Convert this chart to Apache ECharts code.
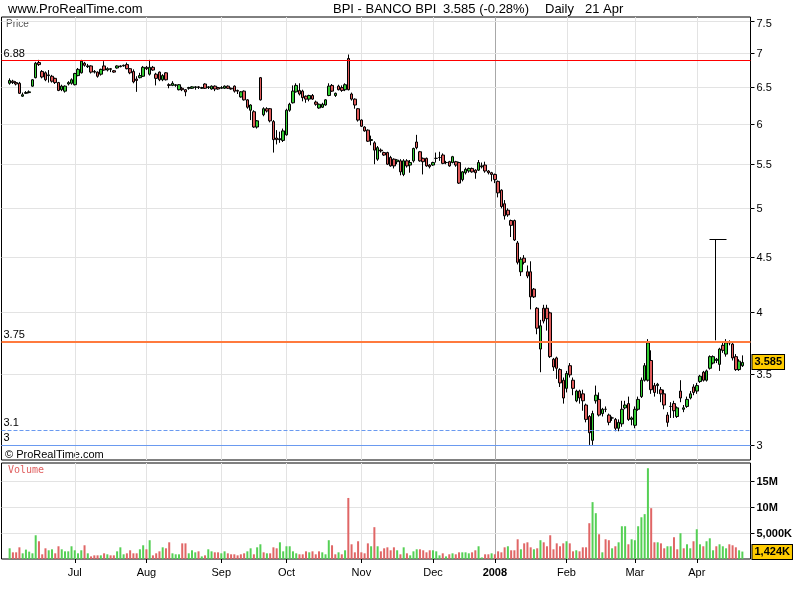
<!DOCTYPE html>
<html><head><meta charset="utf-8">
<script src="https://cdn.jsdelivr.net/npm/echarts@6/dist/echarts.min.js"></script>
<style>html,body{margin:0;padding:0;background:#fff}#c{width:800px;height:600px}</style>
</head><body><div id="c"></div>
<script>
// ---------- data ----------
const symbolName = 'BPI - BANCO BPI';
const startDate = '2007-06-04', endDate = '2008-04-21';
const holidays = ['2007-12-25','2007-12-26','2008-01-01','2008-03-21','2008-03-24'];
const monthKeys  = ['2007-07','2007-08','2007-09','2007-10','2007-11','2007-12','2008-01','2008-02','2008-03','2008-04'];
const monthNames = ['Jul','Aug','Sep','Oct','Nov','Dec','2008','Feb','Mar','Apr'];
// [open, close, low, high]
const candles = [
[6.55,6.59,6.53,6.62],[6.58,6.56,6.54,6.60],[6.56,6.54,6.52,6.58],[6.55,6.41,6.40,6.57],[6.37,6.39,6.36,6.42],
[6.41,6.42,6.40,6.44],[6.42,6.43,6.41,6.45],[6.51,6.60,6.50,6.61],[6.63,6.84,6.62,6.86],[6.85,6.82,6.80,6.89],
[6.72,6.64,6.62,6.74],[6.70,6.60,6.58,6.72],[6.66,6.67,6.56,6.74],[6.65,6.58,6.56,6.67],[6.62,6.56,6.54,6.63],
[6.56,6.45,6.44,6.57],[6.46,6.51,6.44,6.53],[6.44,6.51,6.42,6.52],[6.54,6.56,6.52,6.58],[6.55,6.60,6.53,6.62],
[6.53,6.69,6.52,6.70],[6.66,6.75,6.65,6.77],[6.70,6.87,6.69,6.89],[6.84,6.81,6.79,6.86],[6.79,6.80,6.77,6.83],
[6.80,6.71,6.69,6.81],[6.72,6.71,6.69,6.74],[6.71,6.65,6.63,6.72],[6.68,6.75,6.66,6.76],[6.80,6.74,6.73,6.87],
[6.74,6.76,6.72,6.78],[6.76,6.75,6.71,6.77],[6.73,6.71,6.70,6.74],[6.77,6.80,6.76,6.81],[6.79,6.80,6.78,6.81],
[6.80,6.81,6.79,6.82],[6.82,6.76,6.75,6.85],[6.76,6.70,6.68,6.77],[6.72,6.57,6.55,6.75],[6.61,6.59,6.43,6.65],
[6.63,6.66,6.62,6.70],[6.65,6.78,6.64,6.80],[6.78,6.76,6.74,6.80],[6.68,6.78,6.66,6.89],[6.78,6.74,6.73,6.80],
[6.68,6.62,6.52,6.70],[6.71,6.60,6.58,6.72],[6.60,6.66,6.58,6.68],[6.70,6.60,6.59,6.71],[6.53,6.52,6.48,6.55],
[6.52,6.55,6.51,6.58],[6.52,6.53,6.50,6.54],[6.46,6.53,6.45,6.54],[6.48,6.46,6.44,6.50],[6.46,6.43,6.37,6.47],
[6.48,6.49,6.46,6.50],[6.48,6.50,6.47,6.51],[6.49,6.50,6.46,6.51],[6.50,6.49,6.47,6.51],[6.48,6.49,6.47,6.50],
[6.54,6.48,6.47,6.55],[6.49,6.50,6.47,6.51],[6.47,6.51,6.46,6.52],[6.51,6.47,6.44,6.52],[6.49,6.47,6.46,6.50],
[6.48,6.49,6.47,6.51],[6.48,6.51,6.47,6.52],[6.51,6.48,6.47,6.52],[6.48,6.47,6.46,6.49],[6.51,6.44,6.42,6.52],
[6.45,6.44,6.40,6.46],[6.36,6.43,6.35,6.44],[6.44,6.32,6.31,6.45],[6.32,6.22,6.20,6.33],[6.18,6.25,6.05,6.26],
[6.16,5.96,5.95,6.18],[5.96,6.04,5.94,6.05],[6.63,6.32,6.31,6.64],[6.12,6.20,6.10,6.22],[6.20,6.17,6.15,6.22],
[6.20,6.04,6.02,6.21],[6.03,5.80,5.64,6.05],[5.82,5.80,5.74,5.92],[5.80,5.81,5.76,5.90],[5.79,5.91,5.77,5.94],
[5.86,6.18,5.85,6.20],[6.18,6.26,6.16,6.28],[6.28,6.44,6.27,6.52],[6.43,6.52,6.42,6.55],[6.45,6.40,6.38,6.55],
[6.44,6.35,6.30,6.46],[6.37,6.33,6.28,6.38],[6.33,6.38,6.30,6.39],[6.38,6.33,6.32,6.40],[6.29,6.26,6.24,6.31],
[6.21,6.26,6.20,6.27],[6.22,6.26,6.21,6.28],[6.25,6.32,6.24,6.33],[6.38,6.51,6.37,6.55],[6.52,6.44,6.43,6.54],
[6.38,6.41,6.36,6.42],[6.51,6.46,6.45,6.53],[6.49,6.45,6.43,6.52],[6.46,6.53,6.44,6.55],[6.91,6.46,6.45,6.97],
[6.40,6.33,6.31,6.42],[6.33,6.25,6.20,6.34],[6.20,6.05,6.03,6.21],[6.05,5.97,5.96,6.06],[5.96,5.91,5.90,5.97],
[5.92,5.78,5.77,5.93],[5.79,5.80,5.73,5.85],[5.76,5.67,5.50,5.78],[5.56,5.70,5.54,5.72],[5.67,5.66,5.64,5.69],
[5.64,5.61,5.60,5.65],[5.64,5.50,5.49,5.65],[5.58,5.48,5.47,5.60],[5.56,5.48,5.45,5.57],[5.53,5.55,5.50,5.56],
[5.54,5.41,5.37,5.56],[5.38,5.54,5.36,5.56],[5.54,5.48,5.46,5.56],[5.49,5.52,5.40,5.55],[5.54,5.69,5.52,5.70],
[5.77,5.70,5.68,5.86],[5.65,5.54,5.53,5.66],[5.57,5.53,5.38,5.58],[5.57,5.48,5.47,5.58],[5.49,5.47,5.45,5.50],
[5.49,5.52,5.48,5.53],[5.57,5.57,5.52,5.64],[5.58,5.58,5.54,5.65],[5.61,5.51,5.50,5.63],[5.52,5.52,5.50,5.54],
[5.53,5.48,5.47,5.54],[5.52,5.59,5.51,5.60],[5.53,5.49,5.47,5.54],[5.52,5.28,5.27,5.53],[5.32,5.41,5.30,5.42],
[5.40,5.44,5.38,5.46],[5.42,5.45,5.40,5.46],[5.45,5.41,5.40,5.46],[5.43,5.40,5.33,5.44],[5.43,5.52,5.42,5.55],
[5.47,5.48,5.45,5.52],[5.49,5.42,5.40,5.53],[5.42,5.40,5.38,5.43],[5.40,5.38,5.30,5.41],[5.38,5.32,5.28,5.39],
[5.30,5.17,5.12,5.31],[5.20,5.02,5.00,5.21],[5.05,4.92,4.88,5.09],[4.98,4.93,4.91,5.00],[4.87,4.82,4.70,4.88],
[4.87,4.67,4.66,4.88],[4.64,4.45,4.43,4.66],[4.36,4.48,4.32,4.50],[4.49,4.45,4.43,4.52],[4.36,4.32,4.30,4.42],
[4.36,4.13,4.02,4.46],[4.20,4.13,4.12,4.21],[4.03,3.86,3.81,4.04],[3.69,3.88,3.51,3.93],[4.03,3.92,3.90,4.06],
[4.03,3.94,3.84,4.06],[3.99,3.63,3.62,4.00],[3.61,3.55,3.52,3.62],[3.62,3.54,3.46,3.63],[3.53,3.43,3.40,3.54],
[3.45,3.32,3.28,3.47],[3.39,3.50,3.36,3.52],[3.56,3.49,3.47,3.58],[3.45,3.39,3.34,3.47],[3.30,3.37,3.29,3.38],
[3.37,3.32,3.28,3.38],[3.35,3.30,3.23,3.38],[3.27,3.17,3.15,3.28],[3.19,3.08,3.00,3.20],[3.03,3.21,3.00,3.23],
[3.30,3.34,3.28,3.41],[3.31,3.20,3.19,3.36],[3.21,3.24,3.19,3.25],[3.24,3.24,3.22,3.26],[3.20,3.15,3.13,3.21],
[3.18,3.18,3.16,3.19],[3.17,3.11,3.09,3.18],[3.11,3.15,3.09,3.17],[3.14,3.24,3.12,3.30],[3.25,3.27,3.24,3.30],
[3.28,3.17,3.16,3.33],[3.17,3.18,3.13,3.19],[3.13,3.24,3.11,3.26],[3.24,3.31,3.23,3.33],[3.33,3.45,3.32,3.47],
[3.45,3.56,3.44,3.58],[3.45,3.74,3.44,3.77],[3.60,3.38,3.35,3.68],[3.41,3.36,3.33,3.43],[3.41,3.42,3.35,3.43],
[3.38,3.35,3.29,3.40],[3.35,3.27,3.24,3.38],[3.20,3.15,3.12,3.22],[3.26,3.26,3.18,3.29],[3.28,3.23,3.18,3.30],
[3.19,3.25,3.18,3.26],[3.37,3.32,3.29,3.45],[3.24,3.25,3.22,3.27],[3.26,3.31,3.25,3.33],[3.32,3.35,3.31,3.37],
[3.40,3.36,3.34,3.42],[3.37,3.41,3.35,3.43],[3.44,3.48,3.43,3.49],[3.51,3.45,3.44,3.52],[3.45,3.52,3.44,3.53],
[3.54,3.63,3.53,3.64],[3.58,3.63,3.57,3.64],[3.60,3.61,3.58,3.62],[3.57,3.69,3.52,3.70],[3.72,3.68,3.66,3.75],
[3.65,3.74,3.63,3.77],[3.74,3.74,3.72,3.76],[3.73,3.62,3.60,3.74],[3.63,3.53,3.52,3.65],[3.53,3.595,3.52,3.61],
[3.56,3.585,3.55,3.64]
];
// volume in millions
const volumes = [
2.05,1.28,1.28,2.24,1.09,1.8,1.41,1.09,4.55,3.4,
0.9,2.05,1.67,1.86,1.09,2.44,1.86,1.47,1.47,2.44,
1.67,1.09,1.67,2.63,1.09,0.5,0.7,0.7,0.7,1.09,
0.9,0.7,0.7,1.47,2.24,0.9,1.09,1.67,1.09,1.09,
1.86,2.63,1.86,3.6,0.7,1.09,1.47,2.24,2.05,3.2,
1.09,0.9,0.9,3.0,3.0,1.09,1.67,1.28,1.47,0.5,
0.7,1.86,1.47,1.28,1.28,1.09,1.47,1.09,0.9,0.9,
0.7,0.9,1.09,1.47,2.05,0.9,2.24,2.82,1.28,1.09,
1.09,2.24,2.05,3.2,1.47,2.44,2.44,1.47,1.09,0.9,
0.9,1.47,1.28,1.47,0.9,1.47,1.28,0.9,3.6,2.63,
0.9,1.28,0.9,1.67,11.7,2.82,1.28,3.4,1.28,1.09,
3.0,2.44,6.1,2.44,1.47,2.05,2.24,1.67,2.24,1.67,
0.9,2.24,1.09,0.7,1.47,1.86,1.86,1.67,1.28,1.67,
1.67,1.47,0.7,1.09,0.5,0.9,1.09,0.9,1.28,1.28,
1.28,1.09,1.28,1.67,2.44,0.3,0.9,0.9,1.09,0.9,
1.47,1.28,2.24,2.44,1.67,1.67,3.78,1.86,3.0,3.2,
2.24,1.86,2.05,3.6,3.2,2.44,4.55,1.86,3.0,2.44,
3.0,3.4,3.0,1.47,1.67,1.47,2.24,2.24,6.86,10.9,
8.78,4.74,1.28,3.78,3.6,2.05,2.44,3.2,6.28,6.28,
2.82,3.78,3.6,6.28,8.0,8.6,17.4,9.74,3.2,3.2,
3.0,2.05,2.44,2.44,4.17,1.86,4.94,2.05,2.82,2.05,
3.4,5.7,2.82,2.44,3.4,3.97,1.67,2.44,2.82,2.44,
2.05,2.82,2.63,2.24,1.67,1.424
];
// colour of each volume bar: g = up, r = down
const volumeDir =
'grrrgggggr'+'rrggrrgggg'+'gggrgrrrgr'+'grrgggrrrr'+'ggrgrrrgrr'+
'gggrrgggrg'+'rggrrggrrr'+'rrrggrggrg'+'rrrggggggr'+'rrgrrrgggr'+
'rgrgrrrrrr'+'rgrgrrrrrg'+'rgrgggrrrr'+'gggrgrgrrg'+'ggrrggrrgr'+
'rrrgrrrgrr'+'rgrgrrrrrr'+'rgrrgrrrrg'+'grgrrgrggg'+'rggggggrrg'+
'rrggrrgrgg'+'rggrgggrgg'+'grrrgg';
const priceTicks = [3,3.5,4,4.5,5,5.5,6,6.5,7,7.5];
const volumeTicks = [5,10,15];
const levels = [6.88, 3.75, 3.1, 3];
const spike = {day: 217, from: 3.76, to: 4.68};

// ---------- build ----------
const PAD = 2;
function tradingDays(){
  const out=[]; let d=new Date(startDate+'T00:00:00Z'); const e=new Date(endDate+'T00:00:00Z');
  while(d<=e){ const wd=d.getUTCDay(); const s=d.toISOString().slice(0,10);
    if(wd!==0&&wd!==6&&!holidays.includes(s)) out.push(s);
    d=new Date(d.getTime()+86400000); }
  return out;
}
const dates = tradingDays();
const cats = [];
for(let i=0;i<PAD;i++) cats.push('s'+i);
dates.forEach(d=>cats.push(d));
for(let i=0;i<PAD;i++) cats.push('e'+i);

const monthStart = {}; // category index -> label
dates.forEach((d,i)=>{ const k=d.slice(0,7); const j=monthKeys.indexOf(k);
  if(j>=0 && (i===0 || dates[i-1].slice(0,7)!==k)) monthStart[i+PAD]=monthNames[j]; });
const startIdx = Object.keys(monthStart).map(Number);

const last = candles[candles.length-1][1], prev = candles[candles.length-2][1];
const pct = ((last-prev)/prev*100).toFixed(2);
const lastDate = new Date(dates[dates.length-1]+'T00:00:00Z');
const mn = ['Jan','Feb','Mar','Apr','May','Jun','Jul','Aug','Sep','Oct','Nov','Dec'];
const lastVol = volumes[volumes.length-1];

const FONT = '"Liberation Sans", Arial, sans-serif';
const NARROW = '"Liberation Sans Narrow", "Arial Narrow", "Liberation Sans", sans-serif';
const UP='#33cc33', DOWN='#e05a5a', VUP='#55d055', VDOWN='#e06666', GRID='#e3e3e3';

function hTicks(labels, bold){
  return function(params, api){
    const cs=params.coordSys; const y=Math.round(api.coord([api.value(0), api.value(1)])[1])+0.5;
    const right=cs.x+cs.width; const ly=Math.max(y, cs.y+7);
    return {type:'group', children:[
      {type:'line', shape:{x1:cs.x, y1:y, x2:right, y2:y}, style:{stroke:GRID, lineWidth:1}},
      {type:'line', shape:{x1:right, y1:y, x2:right+4, y2:y}, style:{stroke:'#000', lineWidth:1}},
      {type:'text', x:right+6, y:ly, style:{text:labels[params.dataIndex], font:(bold?'bold ':'')+'11px '+FONT, fill:'#000', align:'left', verticalAlign:'middle'}}
    ]};
  };
}
function vLines(yVal){
  return function(params, api){
    const cs=params.coordSys; const idx=api.value(0);
    const x=Math.round(api.coord([idx, yVal])[0])+0.5;
    return {type:'line', shape:{x1:x, y1:cs.y, x2:x, y2:cs.y+cs.height},
      style:{stroke: monthStart[idx]==='2008' ? '#a8a8a8' : GRID, lineWidth:1}};
  };
}
// value tag drawn at the right of the plot, positioned through the axis scale
function tag(text){
  return function(params, api){
    const cs=params.coordSys; const y=api.coord([api.value(0), api.value(1)])[1];
    const x=cs.x+cs.width+2;
    return {type:'text', x:x, y:Math.round(y), style:{text:text, font:'bold 11px '+FONT, fill:'#000',
      align:'left', verticalAlign:'middle', backgroundColor:'#ffcc00', borderColor:'#000', borderWidth:1, padding:[2,2,1,2]}};
  };
}

const levelStyles = [
  {color:'#ff0000', width:1, type:'solid'},
  {color:'#ff7a3d', width:2, type:'solid'},
  {color:'#6a9af0', width:1, type:'dashed'},
  {color:'#6a9af0', width:1, type:'solid'}
];

const option = {
  animation:false,
  backgroundColor:'#fff',
  grid:[
    {left:1.5, top:17, width:749, height:443, show:true, borderColor:'#000', borderWidth:1},
    {left:1.5, top:463, width:749, height:96, show:true, borderColor:'#000', borderWidth:1}
  ],
  xAxis:[
    {type:'category', gridIndex:0, data:cats, show:false},
    {type:'category', gridIndex:1, data:cats, axisLine:{show:false},
      axisTick:{show:true, alignWithLabel:true, length:4, interval:(i)=>monthStart[i]!==undefined, lineStyle:{color:'#000'}},
      axisLabel:{show:true, interval:(i)=>monthStart[i]!==undefined, margin:8, color:'#000', fontSize:11, fontFamily:FONT,
        formatter:(v,i)=>{ const l=monthStart[i]; return l==='2008' ? '{b|2008}' : (l||''); },
        rich:{b:{fontWeight:'bold', fontSize:11, fontFamily:FONT, color:'#000'}}},
      splitLine:{show:false}}
  ],
  yAxis:[
    {type:'log', gridIndex:0, min:2.904, max:7.558, show:false},
    {type:'value', gridIndex:1, min:0, max:18.4, show:false}
  ],
  graphic:[
    {type:'text', left:8, top:3, style:{text:'www.ProRealTime.com', font:'13px '+NARROW, fill:'#000'}},
    {type:'text', left:333, top:3, style:{text:symbolName, font:'13px '+NARROW, fill:'#000'}},
    {type:'text', left:443, top:3, style:{text:last.toFixed(3)+' ('+pct+'%)', font:'13px '+NARROW, fill:'#000'}},
    {type:'text', left:545, top:3, style:{text:'Daily', font:'13px '+NARROW, fill:'#000'}},
    {type:'text', left:585, top:3, style:{text:lastDate.getUTCDate()+' '+mn[lastDate.getUTCMonth()], font:'13px '+NARROW, fill:'#000'}},
    {type:'text', left:6, top:19, style:{text:'Price', font:'10px '+FONT, fill:'#555'}},
    {type:'text', left:5, top:449, style:{text:'\u00a9 ProRealTime.com', font:'11px '+FONT, fill:'#000'}},
    {type:'text', left:8, top:465, style:{text:'Volume', font:'10px "DejaVu Sans Mono", monospace', fill:'#e06060'}}
  ],
  series:[
    {type:'custom', name:'vgridP', xAxisIndex:0, yAxisIndex:0, z:1, silent:true,
      data:startIdx.map(i=>[i]), renderItem:vLines(5)},
    {type:'custom', name:'vgridV', xAxisIndex:1, yAxisIndex:1, z:1, silent:true,
      data:startIdx.map(i=>[i]), renderItem:vLines(1)},
    {type:'custom', name:'priceTicks', xAxisIndex:0, yAxisIndex:0, z:1, silent:true, clip:false,
      data:priceTicks.map(v=>[PAD, v]), renderItem:hTicks(priceTicks.map(String), false)},
    {type:'custom', name:'volTicks', xAxisIndex:1, yAxisIndex:1, z:1, silent:true, clip:false,
      data:volumeTicks.map(v=>[PAD, v]), renderItem:hTicks(volumeTicks.map(v=> v>=10 ? v+'M' : (v*1000).toLocaleString('en-US')+'K'), true)},
    {type:'candlestick', name:'BPI', xAxisIndex:0, yAxisIndex:0, z:3, barWidth:3,
      encode:{x:0, y:[1,2,3,4]},
      data:candles.map((c,i)=>[i+PAD, c[0], c[1], c[2], c[3]]),
      itemStyle:{color:UP, color0:DOWN, borderColor:'#000', borderColor0:'#000', borderColorDoji:'#000', borderWidth:1},
      markLine:{symbol:['none','none'], silent:true, animation:false, precision:3,
        data: levels.map((v,k)=>({yAxis:v, lineStyle:levelStyles[k],
            label:{show:true, position:'insideStartTop', formatter:String(v), color:'#000', fontSize:11, fontFamily:FONT, distance:[2,1]}}))}},
    {type:'custom', name:'spike', xAxisIndex:0, yAxisIndex:0, z:4, silent:true,
      data:[[spike.day+PAD, spike.from, spike.to]],
      renderItem:function(params, api){
        const a=api.coord([api.value(0), api.value(1)]), b=api.coord([api.value(0), api.value(2)]);
        const x=Math.round(a[0])-0.5, yt=Math.round(b[1])+0.5;
        return {type:'group', children:[
          {type:'line', shape:{x1:x, y1:a[1], x2:x, y2:yt}, style:{stroke:'#000', lineWidth:1}},
          {type:'line', shape:{x1:x-6, y1:yt, x2:x+11, y2:yt}, style:{stroke:'#000', lineWidth:1}}
        ]};
      }},
    {type:'custom', name:'lastPrice', xAxisIndex:0, yAxisIndex:0, z:5, silent:true, clip:false,
      data:[[PAD, last]], renderItem:tag(last.toFixed(3))},
    {type:'bar', name:'Volume', xAxisIndex:1, yAxisIndex:1, z:3, barWidth:2,
      data:volumes.map((v,i)=>({value:[i+PAD, v], itemStyle:{color: volumeDir[i]==='g' ? VUP : VDOWN}}))},
    {type:'custom', name:'lastVolume', xAxisIndex:1, yAxisIndex:1, z:5, silent:true, clip:false,
      data:[[PAD, lastVol]], renderItem:tag(Math.round(lastVol*1000).toLocaleString('en-US')+'K')}
  ]
};
const chart = echarts.init(document.getElementById('c'), null, {renderer:'canvas'});
chart.setOption(option);
</script></body></html>
